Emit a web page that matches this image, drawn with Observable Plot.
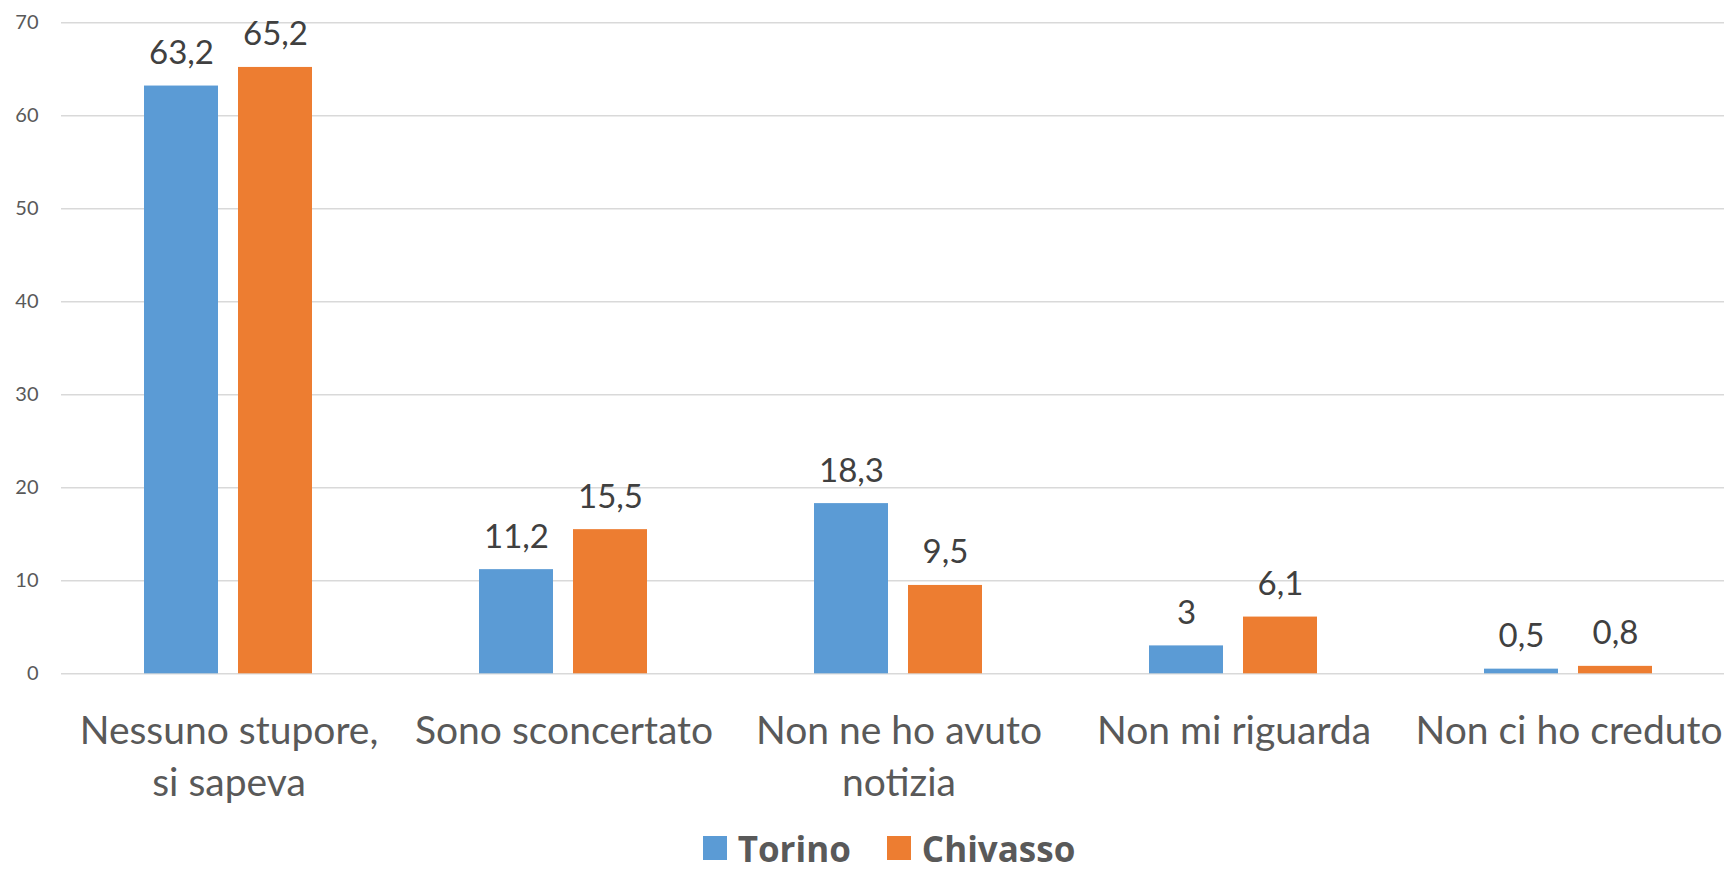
<!DOCTYPE html>
<html><head><meta charset="utf-8">
<script src="https://cdn.jsdelivr.net/npm/d3@7"></script>
<script src="https://cdn.jsdelivr.net/npm/@observablehq/plot@0.6"></script>
<style>
body{margin:0;background:#fff;font-family:Lato,sans-serif;width:1724px;height:872px;overflow:hidden;}
#chart{width:1724px;height:820px;overflow:hidden;}
#chart svg{display:block;max-width:none !important;width:1737px !important;height:820px !important;}
#legend{display:flex;justify-content:center;align-items:center;height:52px;padding-top:4px;padding-left:54px;box-sizing:border-box;}
.item{display:flex;align-items:center;margin:0 18px;font-family:"Open Sans",sans-serif;font-weight:bold;font-size:35px;line-height:1;color:#595959;}
.sw{width:24px;height:24px;margin-right:11px;}
</style></head><body><div id="chart"></div><div id="legend"></div>
<script>
const categories = ["Nessuno stupore,\nsi sapeva","Sono sconcertato","Non ne ho avuto\nnotizia","Non mi riguarda","Non ci ho creduto"];
const series = ["Torino","Chivasso"];
const torino = [63.2, 11.2, 18.3, 3, 0.5];
const chivasso = [65.2, 15.5, 9.5, 6.1, 0.8];
const colors = ["#5B9BD5","#ED7D31"];
const yTicks = [0,10,20,30,40,50,60,70];

const data = categories.flatMap((c,i)=>[
  {cat:c, series:series[0], value:torino[i]},
  {cat:c, series:series[1], value:chivasso[i]}
]);
const fmt = v => String(v).replace(".", ",");

const chart = Plot.plot({
  width:1737, height:820,
  marginTop:22.3, marginBottom:146.7, marginLeft:60, marginRight:0,
  style:{fontFamily:"Lato, sans-serif", background:"#fff"},
  fx:{domain:categories, paddingInner:0, paddingOuter:0, axis:null, label:null},
  x:{domain:series, paddingInner:0.2105, paddingOuter:0.8705, axis:null},
  y:{domain:[0,70], axis:null},
  color:{domain:series, range:colors},
  marks:[
    Plot.ruleY(yTicks, {stroke:"#D9D9D9", strokeWidth:1.6}),
    Plot.axisY(yTicks, {tickSize:0, tickPadding:23, fontSize:20, color:"#595959", tickFormat:d=>String(d), label:null}),
    Plot.barY(data, {fx:"cat", x:"series", y:"value", fill:"series"}),
    Plot.text(data, {fx:"cat", x:"series", y:"value", text:d=>fmt(d.value), dy:-22, lineAnchor:"bottom", fontSize:33, fill:"#404040"}),
    Plot.text(categories, {fx:d=>d, text:d=>d, frameAnchor:"bottom", lineAnchor:"top", lineHeight:1.35, dy:32.5, fontSize:39, fill:"#595959"})
  ]
});
document.getElementById("chart").appendChild(chart);

const legend = document.getElementById("legend");
series.forEach((s,i)=>{
  const it = document.createElement("div"); it.className="item";
  const sw = document.createElement("div"); sw.className="sw"; sw.style.background=colors[i];
  it.appendChild(sw); it.appendChild(document.createTextNode(s));
  legend.appendChild(it);
});
</script>
</body></html>
